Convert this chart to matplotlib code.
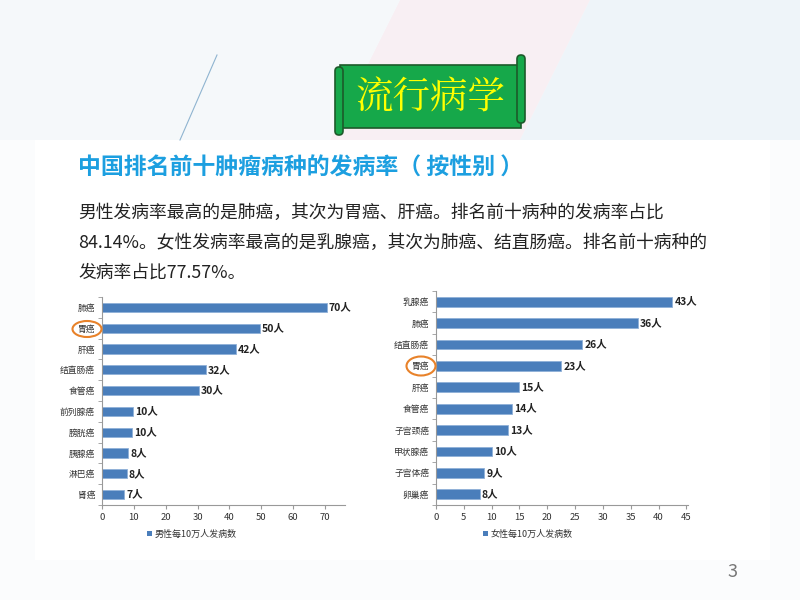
import matplotlib
matplotlib.use("Agg")
import matplotlib.pyplot as plt
from matplotlib.patches import Rectangle, Ellipse, FancyBboxPatch, Polygon

plt.rcParams['font.family'] = ['Noto Sans CJK SC', 'DejaVu Sans']

# data
male_types = ['肺癌', '胃癌', '肝癌', '结直肠癌', '食管癌', '前列腺癌', '膀胱癌', '胰腺癌', '淋巴癌', '肾癌']
male_vals = [70.5, 49.5, 42, 32.5, 30.5, 9.8, 9.5, 8.3, 7.7, 7.0]
male_labels = ['70人', '50人', '42人', '32人', '30人', '10人', '10人', '8人', '8人', '7人']

female_types = ['乳腺癌', '肺癌', '结直肠癌', '胃癌', '肝癌', '食管癌', '子宫颈癌', '甲状腺癌', '子宫体癌', '卵巢癌']
female_vals = [42.5, 36.3, 26.3, 22.5, 15, 13.7, 13, 10, 8.7, 7.9]
female_labels = ['43人', '36人', '26人', '23人', '15人', '14人', '13人', '10人', '9人', '8人']

bar_color = '#4A7EBB'
W, H = 800, 600

fig = plt.figure(figsize=(8, 6), dpi=100)
fig.patch.set_facecolor('#fbfcfd')

# background layer in pixel coordinates
bg = fig.add_axes([0, 0, 1, 1], zorder=0)
bg.set_xlim(0, W)
bg.set_ylim(H, 0)
bg.axis('off')
bg.add_patch(Polygon([(400, 0), (590, 0), (520, 140), (330, 140)], color='#f6e3ea', alpha=0.5, lw=0))
bg.add_patch(Polygon([(590, 0), (800, 0), (800, 140), (520, 140)], color='#e6f0f7', alpha=0.6, lw=0))
bg.add_patch(Polygon([(0, 0), (400, 0), (330, 140), (0, 140)], color='#f3f7fa', alpha=0.7, lw=0))
bg.plot([217, 180], [55, 140], color='#8fb4d0', lw=0.8)
bg.add_patch(Rectangle((35, 140), 735, 420, facecolor='white', edgecolor='none'))

# green scroll banner
bg.add_patch(Rectangle((340, 65), 181, 63, facecolor='#16A84A', edgecolor='#1d5a2a', lw=1.2))
bg.add_patch(FancyBboxPatch((335, 67), 8, 68, boxstyle='round,pad=0,rounding_size=4',
                            facecolor='#16A84A', edgecolor='#1d5a2a', lw=1.2))
bg.add_patch(FancyBboxPatch((517, 55), 8, 68, boxstyle='round,pad=0,rounding_size=4',
                            facecolor='#16A84A', edgecolor='#1d5a2a', lw=1.2))
bg.text(430, 98, '流行病学', color='#FFFF00', fontsize=27, ha='center', va='center',
        family=['Noto Serif CJK SC', 'Noto Sans CJK SC', 'DejaVu Sans'])

# heading and paragraph
bg.text(78, 168, '中国排名前十肿瘤病种的发病率（ 按性别 ）', color='#1C9FE0', fontsize=16.5,
        fontweight='bold', ha='left', va='center')
lines = ['男性发病率最高的是肺癌，其次为胃癌、肝癌。排名前十病种的发病率占比',
         '84.14%。女性发病率最高的是乳腺癌，其次为肺癌、结直肠癌。排名前十病种的',
         '发病率占比77.57%。']
for i, s in enumerate(lines):
    bg.text(78, 213 + 30 * i, s, color='#222222', fontsize=12.8, ha='left', va='center')

bg.text(733, 572, '3', color='#777777', fontsize=13, ha='center', va='center')


def draw_chart(rect, types, vals, labels, xmax, xticks, legend_txt, legend_x):
    ax = fig.add_axes(rect, zorder=2)
    ax.patch.set_alpha(0)
    y = list(range(len(types)))
    ax.barh(y, vals, height=0.45, color=bar_color, edgecolor='#8fb0d8', lw=0.6)
    for yi, v, lab in zip(y, vals, labels):
        ax.text(v + xmax * 0.008, yi, lab, fontsize=7.5, fontweight='bold',
                color='#222222', ha='left', va='center')
    ax.set_ylim(len(types) - 0.5, -0.5)
    ax.set_xlim(0, xmax)
    ax.set_xticks(xticks)
    ax.set_xticklabels([str(t) for t in xticks], fontsize=6.8, color='#333333')
    ax.set_yticks(y)
    ax.set_yticklabels(types, fontsize=6.3, color='#333333')
    ax.set_yticks([i + 0.5 for i in range(-1, len(types))], minor=True)
    ax.tick_params(axis='y', which='major', length=0, pad=5)
    ax.tick_params(axis='y', which='minor', length=3, color='#999999')
    ax.tick_params(axis='x', length=3, color='#999999', pad=3)
    for s in ['top', 'right']:
        ax.spines[s].set_visible(False)
    for s in ['left', 'bottom']:
        ax.spines[s].set_color('#999999')
        ax.spines[s].set_linewidth(0.8)
    bg.add_patch(Rectangle((legend_x, 531), 5, 5, facecolor=bar_color, edgecolor='none'))
    bg.text(legend_x + 8, 534, legend_txt, fontsize=6.5, color='#333333', ha='left', va='center')
    return ax


draw_chart([102 / W, 1 - 505 / H, 243 / W, 208 / H], male_types, male_vals, male_labels,
           76.3, [0, 10, 20, 30, 40, 50, 60, 70], '男性每10万人发病数', 147)
draw_chart([436 / W, 1 - 505 / H, 252 / W, 214 / H], female_types, female_vals, female_labels,
           45.3, [0, 5, 10, 15, 20, 25, 30, 35, 40, 45], '女性每10万人发病数', 483)

# orange circles around 胃癌
over = fig.add_axes([0, 0, 1, 1], zorder=5)
over.set_xlim(0, W)
over.set_ylim(H, 0)
over.axis('off')
over.patch.set_alpha(0)
over.add_patch(Ellipse((87, 329), 29, 16, fill=False, edgecolor='#E8822A', lw=1.5))
over.add_patch(Ellipse((421, 366), 29, 19, fill=False, edgecolor='#E8822A', lw=1.5))

fig.savefig('out.png', dpi=100, facecolor=fig.get_facecolor())
